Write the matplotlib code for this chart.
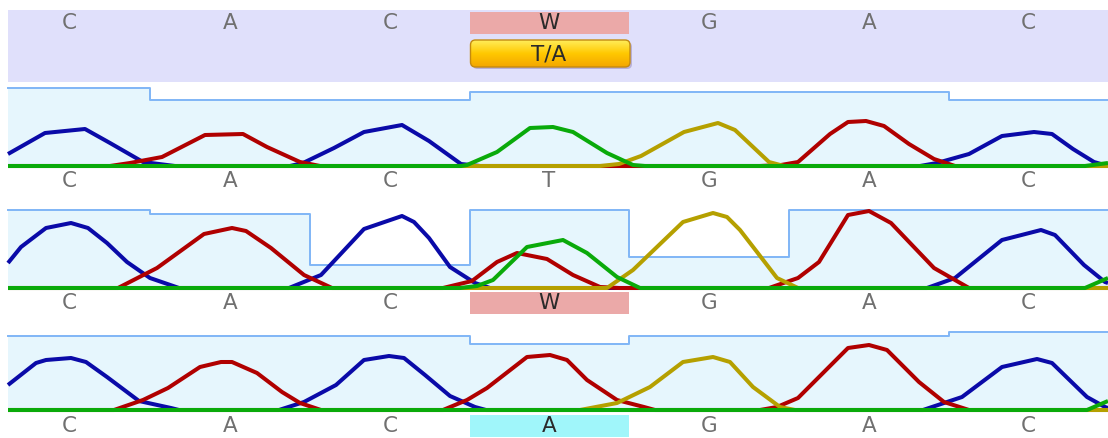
import numpy as np
import matplotlib.pyplot as plt
from matplotlib.patches import Rectangle, FancyBboxPatch
from matplotlib.colors import LinearSegmentedColormap

# base calls (scan positions) and sequences
base_pos = [69, 230, 390, 549, 709, 869, 1028]
consensus = ['C', 'A', 'C', 'W', 'G', 'A', 'C']
calls_1 = ['C', 'A', 'C', 'T', 'G', 'A', 'C']
calls_2 = ['C', 'A', 'C', 'W', 'G', 'A', 'C']
calls_3 = ['C', 'A', 'C', 'A', 'G', 'A', 'C']
variant = 'T/A'
variant_idx = 3

# quality per base
qual_1 = [78, 66, 66, 74, 74, 74, 66]
qual_2 = [78, 74, 23, 78, 31, 78, 78]
qual_3 = [74, 74, 74, 66, 74, 74, 78]

# ---- read 1 traces ----
r1_C_x = [8, 45, 85, 110, 143, 175, 290, 303, 334, 364, 402, 429, 461, 480, 920, 937, 969, 1002, 1034, 1052, 1073, 1094, 1108]
r1_C_y = [12, 33, 37, 23, 4, 0, 0, 3, 18, 34, 41, 25, 2, 0, 0, 3, 12, 30, 34, 32, 17, 4, 0]
r1_A_x = [8, 110, 130, 162, 205, 243, 267, 300, 320, 760, 781, 798, 830, 848, 866, 884, 909, 934, 955, 1108]
r1_A_y = [0, 0, 3, 9, 31, 32, 19, 4, 0, 0, 1, 4, 32, 44, 45, 40, 22, 7, 0, 0]
r1_G_x = [8, 600, 619, 641, 684, 718, 735, 769, 784, 1108]
r1_G_y = [0, 0, 2, 10, 34, 43, 36, 4, 0, 0]
r1_T_x = [8, 461, 467, 497, 530, 553, 573, 607, 633, 645, 1085, 1108]
r1_T_y = [0, 0, 1, 14, 38, 39, 34, 13, 1, 0, 0, 3]

# ---- read 2 traces ----
r2_C_x = [8, 21, 46, 71, 88, 107, 127, 150, 179, 289, 321, 364, 402, 414, 429, 450, 475, 490, 927, 955, 1002, 1041, 1055, 1084, 1105, 1108]
r2_C_y = [25, 41, 60, 65, 60, 45, 26, 10, 0, 0, 13, 59, 72, 66, 50, 21, 5, 0, 0, 10, 48, 58, 53, 23, 6, 5]
r2_A_x = [8, 118, 157, 204, 232, 246, 271, 304, 332, 443, 472, 497, 517, 547, 573, 600, 619, 769, 798, 819, 848, 869, 891, 912, 934, 969, 1108]
r2_A_y = [0, 0, 20, 54, 60, 57, 40, 13, 0, 0, 7, 26, 35, 29, 13, 1, 0, 0, 10, 26, 73, 77, 65, 43, 20, 0, 0]
r2_G_x = [8, 607, 633, 683, 713, 727, 740, 757, 777, 798, 1108]
r2_G_y = [0, 0, 18, 66, 75, 71, 58, 36, 10, 0, 0]
r2_T_x = [8, 460, 477, 493, 527, 563, 587, 617, 640, 1085, 1108]
r2_T_y = [0, 0, 2, 8, 41, 48, 35, 11, 0, 0, 10]

# ---- read 3 traces ----
r3_C_x = [8, 36, 46, 71, 86, 107, 139, 171, 179, 279, 304, 336, 364, 389, 404, 425, 450, 475, 486, 923, 962, 1002, 1037, 1052, 1087, 1105, 1108]
r3_C_y = [25, 47, 50, 52, 48, 33, 9, 2, 0, 0, 8, 25, 50, 54, 52, 35, 14, 3, 0, 0, 13, 43, 51, 47, 13, 3, 2]
r3_A_x = [8, 114, 143, 168, 200, 221, 232, 257, 282, 300, 321, 443, 467, 487, 527, 550, 567, 587, 617, 644, 655, 760, 777, 798, 819, 848, 869, 887, 919, 944, 969, 1108]
r3_A_y = [0, 0, 10, 22, 43, 48, 48, 37, 18, 7, 0, 0, 10, 22, 53, 55, 50, 30, 10, 3, 0, 0, 3, 12, 33, 62, 65, 60, 28, 8, 0, 0]
r3_G_x = [8, 580, 617, 650, 683, 713, 730, 753, 780, 795, 1108]
r3_G_y = [0, 0, 7, 23, 48, 53, 48, 23, 3, 0, 0]
r3_T_x = [8, 1087, 1108]
r3_T_y = [0, 0, 9]

colors = {'C': '#0a0aa8', 'A': '#b00000', 'G': '#b5a000', 'T': '#0aaa0a'}
W, H = 1108, 438
fig = plt.figure(figsize=(W / 100, H / 100), dpi=100)

# column edges between base calls
edges = [8] + [(base_pos[i] + base_pos[i + 1]) / 2 for i in range(len(base_pos) - 1)] + [1108]

panels = [
    (88, qual_1, [(r1_C_x, r1_C_y, 'C'), (r1_A_x, r1_A_y, 'A'), (r1_G_x, r1_G_y, 'G'), (r1_T_x, r1_T_y, 'T')]),
    (210, qual_2, [(r2_C_x, r2_C_y, 'C'), (r2_A_x, r2_A_y, 'A'), (r2_G_x, r2_G_y, 'G'), (r2_T_x, r2_T_y, 'T')]),
    (332, qual_3, [(r3_C_x, r3_C_y, 'C'), (r3_A_x, r3_A_y, 'A'), (r3_G_x, r3_G_y, 'G'), (r3_T_x, r3_T_y, 'T')]),
]

for top, qual, traces in panels:
    ax = fig.add_axes([8 / W, 1 - (top + 78) / H, 1100 / W, 78 / H])
    ax.set_xlim(8, 1108)
    ax.set_ylim(0, 78)
    ax.axis('off')
    q = qual + [qual[-1]]
    ax.fill_between(edges, q, 0, step='post', color='#e6f6fd', lw=0)
    ax.plot(edges, q, drawstyle='steps-post', color='#80b6f6', lw=1.4, clip_on=False)
    for xs, ys, b in traces:
        ax.plot(xs, ys, color=colors[b], lw=2.9, solid_joinstyle='round',
                solid_capstyle='butt', clip_on=False)

# overlay for sequence rows
ov = fig.add_axes([0, 0, 1, 1], facecolor='none')
ov.set_xlim(0, W)
ov.set_ylim(H, 0)
ov.axis('off')

ov.add_patch(Rectangle((8, 10), 1100, 72, color='#e0e0fb', lw=0))
box_w = edges[variant_idx + 1] - edges[variant_idx]
ov.add_patch(Rectangle((edges[variant_idx], 12), box_w, 22, color='#eba9a8', lw=0))

fs = 15.5
grey = '#707070'
dark = '#2a2a2a'
for i, b in enumerate(consensus):
    ov.text(base_pos[i], 23, b, ha='center', va='center', fontsize=fs,
            color=dark if i == variant_idx else grey)

# variant button
btn = FancyBboxPatch((edges[variant_idx] + 1, 40), box_w, 27,
                     boxstyle='round,pad=0,rounding_size=5',
                     fc='none', ec='#c48a10', lw=1.0, zorder=3)
shadow = FancyBboxPatch((edges[variant_idx] + 3, 42), box_w, 27,
                        boxstyle='round,pad=0,rounding_size=5',
                        fc='#b8b0d8', ec='none', zorder=1)
ov.add_patch(shadow)
ov.add_patch(btn)
cmap = LinearSegmentedColormap.from_list('btn', ['#fff060', '#ffc800', '#f3a400'])
grad = np.linspace(0, 1, 60).reshape(-1, 1)
im = ov.imshow(grad, extent=(edges[variant_idx], edges[variant_idx + 1] + 2, 68, 39),
               cmap=cmap, aspect='auto', zorder=2)
im.set_clip_path(btn)
ov.text(base_pos[variant_idx], 54, variant, ha='center', va='center', fontsize=fs, color=dark, zorder=4)
ov.set_xlim(0, W)
ov.set_ylim(H, 0)

# calls under each trace
rows = [(181, calls_1, None), (303, calls_2, '#eba9a8'), (426, calls_3, '#a0f6fa')]
for y, calls, hl in rows:
    if hl:
        ov.add_patch(Rectangle((edges[variant_idx], y - 11), box_w, 22, color=hl, lw=0))
    for i, b in enumerate(calls):
        ov.text(base_pos[i], y, b, ha='center', va='center', fontsize=fs,
                color=dark if (hl and i == variant_idx) else grey)

fig.savefig('out.png', dpi=100)
